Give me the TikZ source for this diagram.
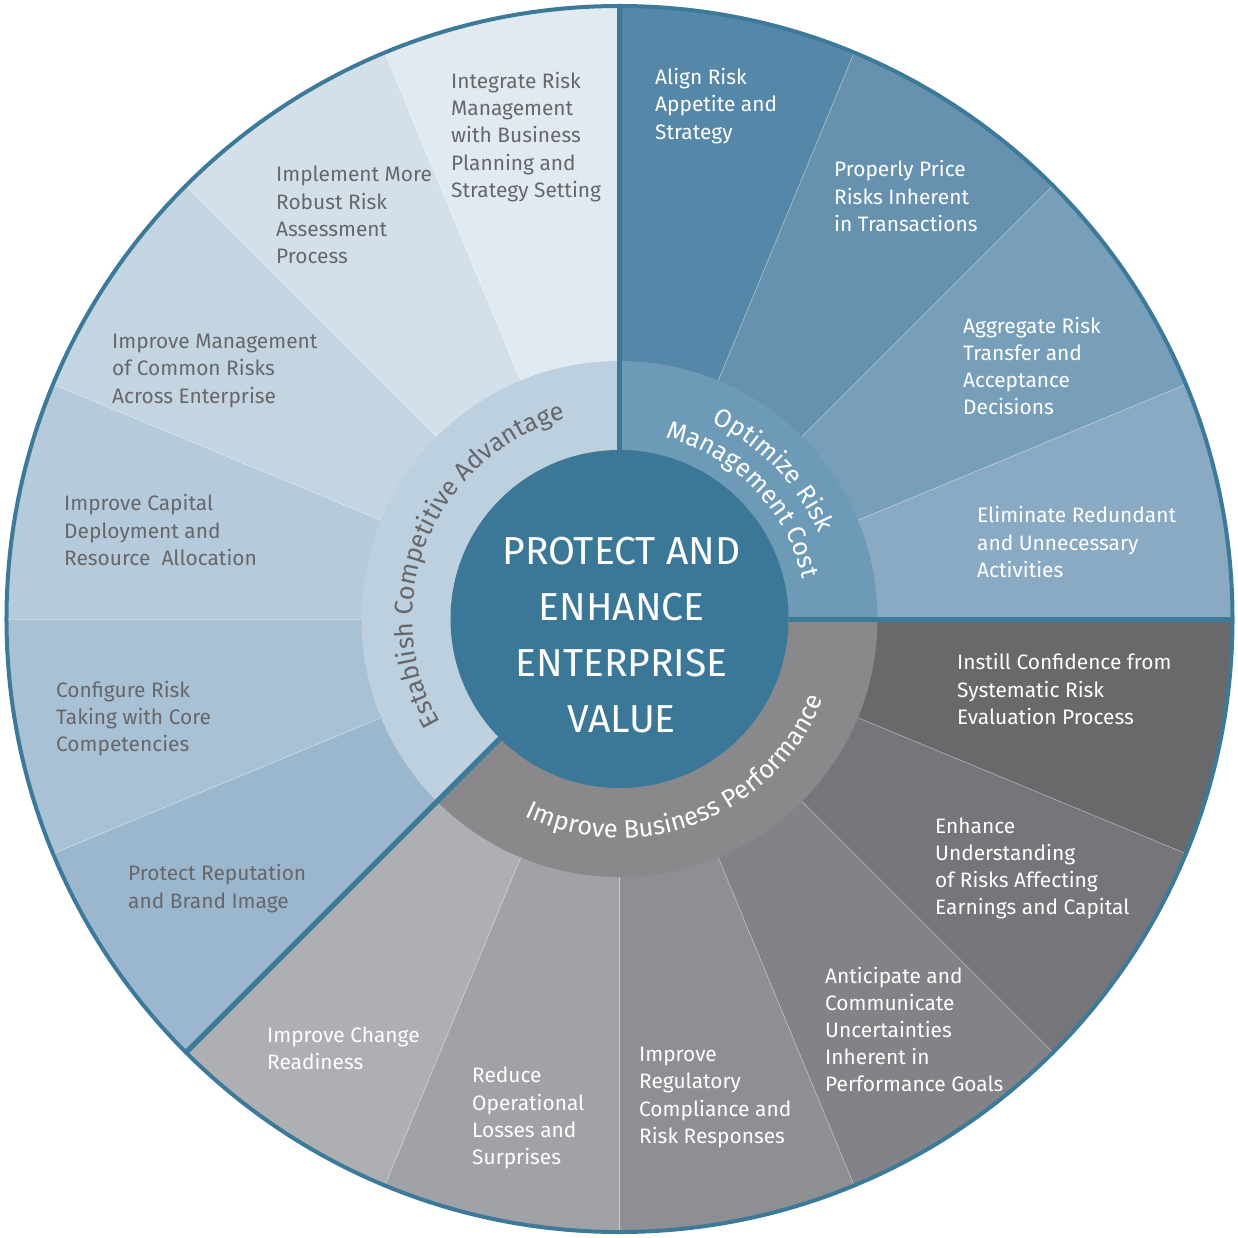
\documentclass[tikz,border=0pt]{standalone}
\usepackage{fontspec}
\setmainfont{Fira Sans}
\usetikzlibrary{decorations.text}
\definecolor{rimblue}{HTML}{3D7A9A}
\definecolor{hubblue}{HTML}{3B7797}
\definecolor{txtgray}{HTML}{67676A}
\definecolor{ringtr}{HTML}{6D9AB6}
\definecolor{ringbot}{HTML}{89898C}
\definecolor{ringleft}{HTML}{BDD0DF}
\definecolor{s1}{HTML}{5587A8}
\definecolor{s2}{HTML}{6692AF}
\definecolor{s3}{HTML}{779FBA}
\definecolor{s4}{HTML}{89AAC2}
\definecolor{s5}{HTML}{69696C}
\definecolor{s6}{HTML}{76767A}
\definecolor{s7}{HTML}{838387}
\definecolor{s8}{HTML}{8E8F93}
\definecolor{s9}{HTML}{A1A2A6}
\definecolor{s10}{HTML}{AEAFB3}
\definecolor{s11}{HTML}{9BB7CD}
\definecolor{s12}{HTML}{A9C1D4}
\definecolor{s13}{HTML}{B5CADB}
\definecolor{s14}{HTML}{C4D5E2}
\definecolor{s15}{HTML}{D3E0EA}
\definecolor{s16}{HTML}{E2EAF1}
\newcommand\boxfont{\fontsize{20.9}{27.2}\selectfont}
\newcommand\ringfont{\fontsize{25.5}{25.5}\selectfont}
\newcommand\hubfont{\fontsize{39}{56}\selectfont}
\begin{document}
\begin{tikzpicture}[x=1pt,y=1pt,
  lbl/.style={anchor=west,align=left,inner sep=0pt,font=\boxfont,text=white},
  lbldark/.style={lbl,text=txtgray},
  split/.style={white,opacity=0.3,line width=0.8pt},
  rim/.style={rimblue,line width=5pt},
  ringtext/.style={decorate,decoration={text along path,text align=center,text color=#1}}]
\useasboundingbox (-619.5,-618) rectangle (618.5,619);
\foreach \a/\c in {67.5/s1,45/s2,22.5/s3,0/s4,-22.5/s5,-45/s6,-67.5/s7,-90/s8,-112.5/s9,-135/s10,
  202.5/s11,180/s12,157.5/s13,135/s14,112.5/s15,90/s16}
  \fill[\c] (0,0) -- (\a:613) arc[start angle=\a,end angle=\a+22.5,radius=613] -- cycle;
\foreach \a in {22.5,45,67.5,-22.5,-45,-67.5,-90,-112.5,112.5,135,157.5,180,202.5}
  \draw[split] (\a:258) -- (\a:613);
\fill[ringtr] (0,0) -- (0:258) arc[start angle=0,end angle=90,radius=258] -- cycle;
\fill[ringbot] (0,0) -- (-135:258) arc[start angle=-135,end angle=0,radius=258] -- cycle;
\fill[ringleft] (0,0) -- (90:258) arc[start angle=90,end angle=225,radius=258] -- cycle;
\foreach \a in {90,0,225}
  \draw[rim] (\a:169) -- (\a:613);
\draw[rimblue,line width=4pt] (0,0) circle[radius=613];
\node[circle,fill=hubblue,minimum size=338pt,inner sep=0pt] (hub) at (0,0) {};
\node[align=center,font=\hubfont,text=white,inner sep=0pt] (hubtext) at (2,-16) {PROTECT AND\\ENHANCE\\ENTERPRISE\\VALUE};

\path[ringtext=white,decoration={text={|\ringfont|Optimize Risk}}] (94:217) arc[start angle=94,end angle=-6,radius=217];
\path[ringtext=white,decoration={text={|\ringfont|Management Cost}}] (104:187) arc[start angle=104,end angle=-16,radius=187];
\path[ringtext=white,decoration={text={|\ringfont|Improve Business Performance}}] (-128.5:219) arc[start angle=-128.5,end angle=-8.5,radius=219];
\path[ringtext=txtgray,decoration={text={|\ringfont|Establish Competitive Advantage}}] (227.5:207) arc[start angle=227.5,end angle=87.5,radius=207];

\node[lbl] (txtalign) at (35.5,513) {Align Risk\\Appetite and\\Strategy};
\node[lbl] (txtprice) at (214.5,423) {Properly Price\\Risks Inherent\\in Transactions};
\node[lbl] (txtaggr) at (343.5,253) {Aggregate Risk\\Transfer and\\Acceptance\\Decisions};
\node[lbl] (txtelim) at (357.5,77) {Eliminate Redundant\\and Unnecessary\\Activities};
\node[lbl] (txtinstill) at (337.5,-70) {Instill Confidence from\\Systematic Risk\\Evaluation Process};
\node[lbl] (txtenhance) at (315.5,-249.5) {Enhance\\Understanding\\of Risks Affecting\\Earnings and Capital};
\node[lbl] (txtanticip) at (205.5,-410.5) {Anticipate and\\Communicate\\Uncertainties\\Inherent in\\Performance Goals};
\node[lbl] (txtregul) at (19.5,-478.5) {Improve\\Regulatory\\Compliance and\\Risk Responses};
\node[lbl] (txtreduce) at (-147.5,-499) {Reduce\\Operational\\Losses and\\Surprises};
\node[lbl] (txtchange) at (-352.5,-429.5) {Improve Change\\Readiness};
\node[lbldark] (txtprotect) at (-491.5,-269.5) {Protect Reputation\\and Brand Image};
\node[lbldark] (txtconfig) at (-563.5,-99.5) {Configure Risk\\Taking with Core\\Competencies};
\node[lbldark] (txtcapital) at (-555.5,89) {Improve Capital\\Deployment and\\Resource~ Allocation};
\node[lbldark] (txtcommon) at (-507.5,248) {Improve Management\\of Common Risks\\Across Enterprise};
\node[lbldark] (txtrobust) at (-343.5,404) {Implement More\\Robust Risk\\Assessment\\Process};
\node[lbldark] (txtintegr) at (-168.5,482) {Integrate Risk\\Management\\with Business\\Planning and\\Strategy Setting};
\end{tikzpicture}
\end{document}
